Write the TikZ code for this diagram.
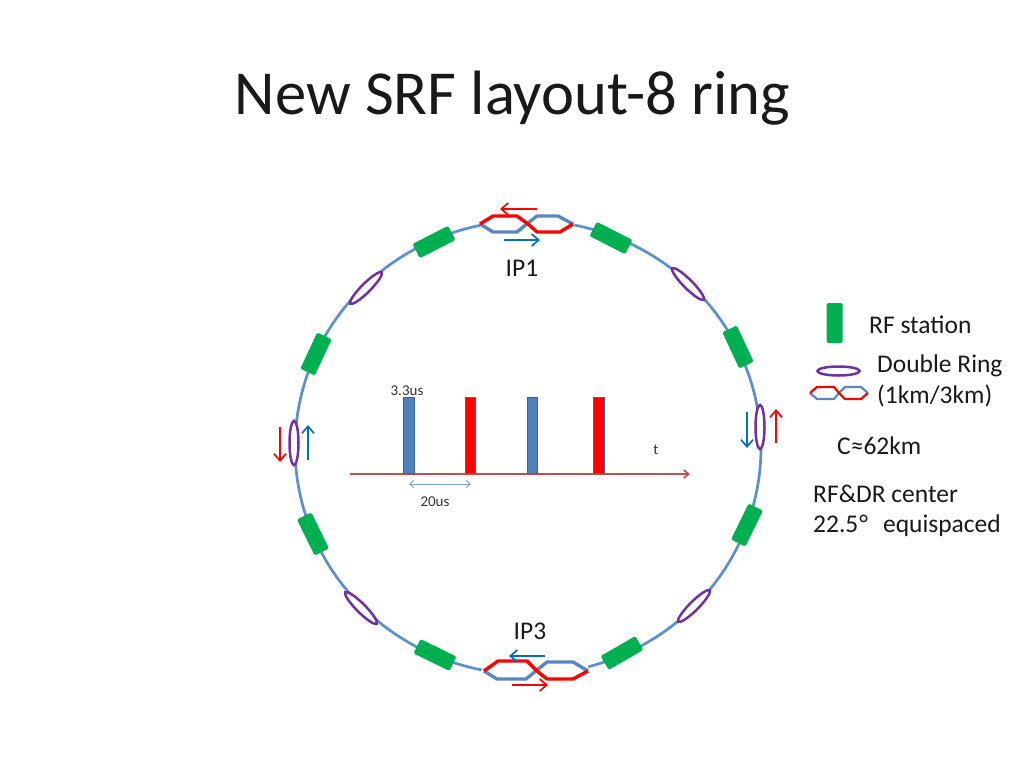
\documentclass[tikz,border=0pt]{standalone}
\usepackage{fontspec}
\setmainfont{Carlito}
\usetikzlibrary{arrows.meta,shapes.geometric}
\definecolor{rfgreen}{RGB}{0,176,80}
\definecolor{drpurple}{RGB}{112,48,160}
\definecolor{ringblue}{RGB}{91,143,208}
\definecolor{chblue}{RGB}{90,135,195}
\definecolor{arrblue}{RGB}{0,112,192}
\definecolor{barblue}{RGB}{79,129,189}
\definecolor{baredge}{RGB}{65,100,150}
\definecolor{axisred}{RGB}{192,80,77}
\definecolor{dimblue}{RGB}{120,160,205}
\tikzset{
  x=1pt,y=-1pt,
  rfbox/.style={draw=none,fill=rfgreen,rounded corners=1.5pt,minimum width=16pt,minimum height=40pt,inner sep=0pt},
  drell/.style={draw=drpurple,fill=white,line width=2.5pt,ellipse,minimum width=#1,minimum height=9pt,inner sep=0pt},
  drell/.default=44pt,
  flow/.style={line width=2pt,-{Straight Barb[length=7pt,width=12pt,line width=1.7pt]}},
  chred/.style={draw=red,line width=3.4pt,line join=round},
  chbl/.style={draw=chblue,line width=3.4pt,line join=round},
  bar/.style={draw=baredge,line width=1pt,minimum width=10pt,minimum height=76pt,inner sep=0pt},
  lab/.style={font=\fontsize{25.5}{30}\selectfont,anchor=west,inner sep=0pt,text=black!90},
  small/.style={font=\fontsize{15}{18}\selectfont,inner sep=0pt,text=black!80},
}
\begin{document}
\begin{tikzpicture}
\useasboundingbox[fill=white] (0,0) rectangle (1024,768);
\node[font=\fontsize{62.6}{70}\selectfont,inner sep=0pt,text=black!90] (title) at (512.5,98) {New SRF layout-8 ring};
% ring
\draw[ringblue,line width=2.7pt] plot[domain=78.5:-75,samples=120] ({528+233*cos(\x)},{447.5-227*sin(\x)});
\draw[ringblue,line width=2.7pt] plot[domain=101.9:258.5,samples=120] ({528+233*cos(\x)},{447.5-227*sin(\x)});
% RF stations
\foreach \n/\px/\py/\rot in {r1/434/242/-63,r2/611/238/63,r3/316/354/-25,r4/738/347/25,r5/313/534/26,r6/747/525/-26,r7/435/655/64,r8/622/653/-60}
  \node[rfbox,rotate=\rot] (\n) at (\px,\py) {};
% double-ring ellipses
\foreach \n/\px/\py/\rot in {e1/366/288/-45,e2/688/284/45,e3/294/443/90,e4/760/427/90,e5/361/608/45,e6/694/606/-45}
  \node[drell,rotate=-\rot] (\n) at (\px,\py) {};
% IP1 crossing
\draw[chbl] (480,224) -- (493,232) -- (517,232) -- (528,223) -- (537,216) -- (558,216) -- (573,224);
\draw[chred] (480,224) -- (493,216) -- (517,216) -- (528,224) -- (537,232) -- (560,232) -- (573,224);
\draw[flow,red] (537,209) -- (500,209);
\draw[flow,arrblue] (504,240) -- (540,240);
\node[lab,anchor=center] (ip1) at (522,268) {IP1};
% IP3 crossing
\draw[chbl] (484,671) -- (497,679) -- (526,679) -- (537,670) -- (547,662) -- (573,662) -- (588,671);
\draw[chred] (484,671) -- (498,661) -- (527,661) -- (537,671) -- (547,679) -- (573,679) -- (588,671);
\draw[flow,arrblue] (545,656) -- (509,656);
\draw[flow,red] (512,685) -- (548,685);
\node[lab,anchor=center] (ip3) at (530,631) {IP3};
% side arrows
\draw[flow,red] (280,427) -- (280,462);
\draw[flow,arrblue] (308,460) -- (308,425);
\draw[flow,arrblue] (747,412) -- (747,448);
\draw[flow,red] (776,443) -- (776,409);
% timing
\draw[axisred,line width=2.2pt,-{Straight Barb[length=5pt,width=8pt,line width=1.6pt]}] (350,474) -- (690,474);
\node[bar,fill=barblue,minimum width=11pt] (b1) at (408.5,435) {};
\node[bar,fill=red] (b2) at (470.5,435) {};
\node[bar,fill=barblue] (b3) at (532.5,435) {};
\node[bar,fill=red,minimum width=11pt] (b4) at (599,435) {};
\draw[dimblue,line width=1pt,{Straight Barb[length=4pt,width=7pt]}-{Straight Barb[length=4pt,width=7pt]}] (409,484) -- (471,484);
\node[small] (t1) at (407,390.5) {3.3us};
\node[small] (t2) at (435,502) {20us};
\node[small] (t3) at (656,450) {t};
% legend
\node[rfbox] (lrf) at (834.5,323) {};
\node[drell=42pt] (lel) at (838.5,371) {};
\draw[draw=chblue,line width=2.2pt,line join=round] (810,393) -- (817,399) -- (834,399) -- (839,393) -- (845,387) -- (861,387) -- (868,393);
\draw[draw=red,line width=2.2pt,line join=round] (810,393) -- (817,387) -- (834,387) -- (839,393) -- (845,399) -- (861,399) -- (868,393);
\node[lab] (l1) at (869,325) {RF station};
\node[lab] (l2) at (877,366) {Double Ring};
\node[lab] (l3) at (877,396) {(1km/3km)};
\node[lab] (l4) at (837,446) {C≈62km};
\node[lab] (l5) at (813,494) {RF\&DR center};
\node[lab] (l6) at (813,526) {22.5\hspace{1pt}°\hspace{15pt}equispaced};
\end{tikzpicture}
\end{document}
